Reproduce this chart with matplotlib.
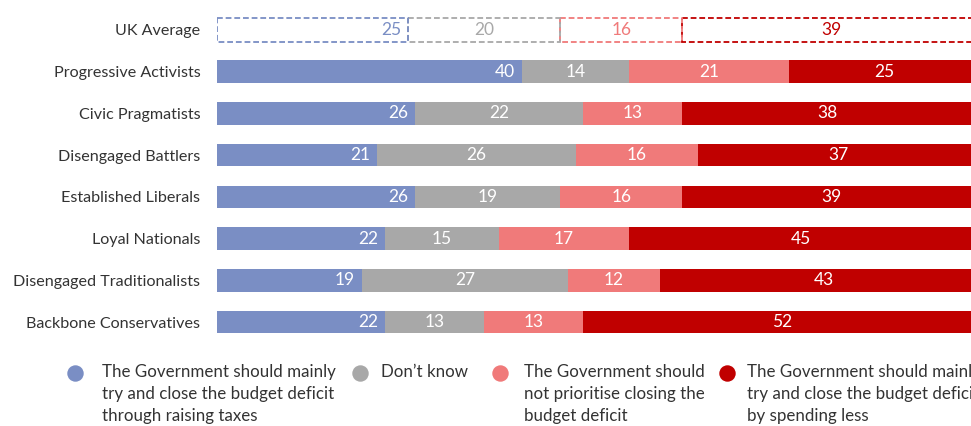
import matplotlib
matplotlib.use("Agg")
import matplotlib.pyplot as plt
import numpy as np

plt.rcParams['font.family'] = ['Lato', 'DejaVu Sans']

categories = ["UK Average", "Progressive Activists", "Civic Pragmatists", "Disengaged Battlers",
              "Established Liberals", "Loyal Nationals", "Disengaged Traditionalists",
              "Backbone Conservatives"]
raise_taxes = [25, 40, 26, 21, 26, 22, 19, 22]
dont_know = [20, 14, 22, 26, 19, 15, 27, 13]
not_prioritise = [16, 21, 13, 16, 16, 17, 12, 13]
spend_less = [39, 25, 38, 37, 39, 45, 43, 52]

series_labels = [
    "The Government should mainly\ntry and close the budget deficit\nthrough raising taxes",
    "Don\u2019t know",
    "The Government should\nnot prioritise closing the\nbudget deficit",
    "The Government should mainly\ntry and close the budget deficit\nby spending less",
]
colors = ["#7A8EC4", "#A8A8A8", "#F07A7A", "#C00000"]

W, H = 971, 426
fig = plt.figure(figsize=(W / 100, H / 100), dpi=100)

# Bar axes: 0 at x=217px, 100 at ~980px (runs past the right edge)
left_px, right_px = 217, 980
top_px, bottom_px = 9, 343
ax = fig.add_axes([left_px / W, 1 - bottom_px / H, (right_px - left_px) / W, (bottom_px - top_px) / H])

series = [raise_taxes, dont_know, not_prioritise, spend_less]
y = np.arange(len(categories))
bar_h = 0.54
lefts = np.zeros(len(categories))
for si, vals in enumerate(series):
    vals = np.array(vals, dtype=float)
    for i in range(len(categories)):
        if i == 0:
            ax.barh(y[i], vals[i], left=lefts[i], height=0.57, fill=False,
                    edgecolor=colors[si], linestyle=(0, (3.2, 1.6)), linewidth=1.3, zorder=3 - si * 0.1)
            tcol = colors[si]
        else:
            ax.barh(y[i], vals[i], left=lefts[i], height=bar_h, color=colors[si], linewidth=0)
            tcol = "white"
        if si == 0:
            ax.text(lefts[i] + vals[i] - 0.9, y[i], f"{int(vals[i])}", ha="right", va="center",
                    color=tcol, fontsize=12.5)
        else:
            ax.text(lefts[i] + vals[i] / 2, y[i], f"{int(vals[i])}", ha="center", va="center",
                    color=tcol, fontsize=12.5)
    lefts += vals

ax.set_xlim(0, 100)
ax.set_ylim(len(categories) - 0.5, -0.5)
ax.set_yticks(y)
ax.set_yticklabels(categories, fontsize=11.6, color="#333333")
ax.tick_params(axis="y", length=0, pad=12)
ax.set_xticks([])
for s in ax.spines.values():
    s.set_visible(False)

# Legend drawn in pixel coordinates
lax = fig.add_axes([0, 0, 1, 1])
lax.set_xlim(0, W)
lax.set_ylim(H, 0)
lax.axis("off")
marker_x = [75, 360, 500, 727]
text_x = [102, 381, 524, 747]
for mx, tx, lab, c in zip(marker_x, text_x, series_labels, colors):
    lax.scatter([mx], [373], s=140, color=c, linewidths=0)
    lax.text(tx, 364, lab, ha="left", va="top", fontsize=12.2, color="#333333", linespacing=1.45)

fig.savefig("out.png", dpi=100)
